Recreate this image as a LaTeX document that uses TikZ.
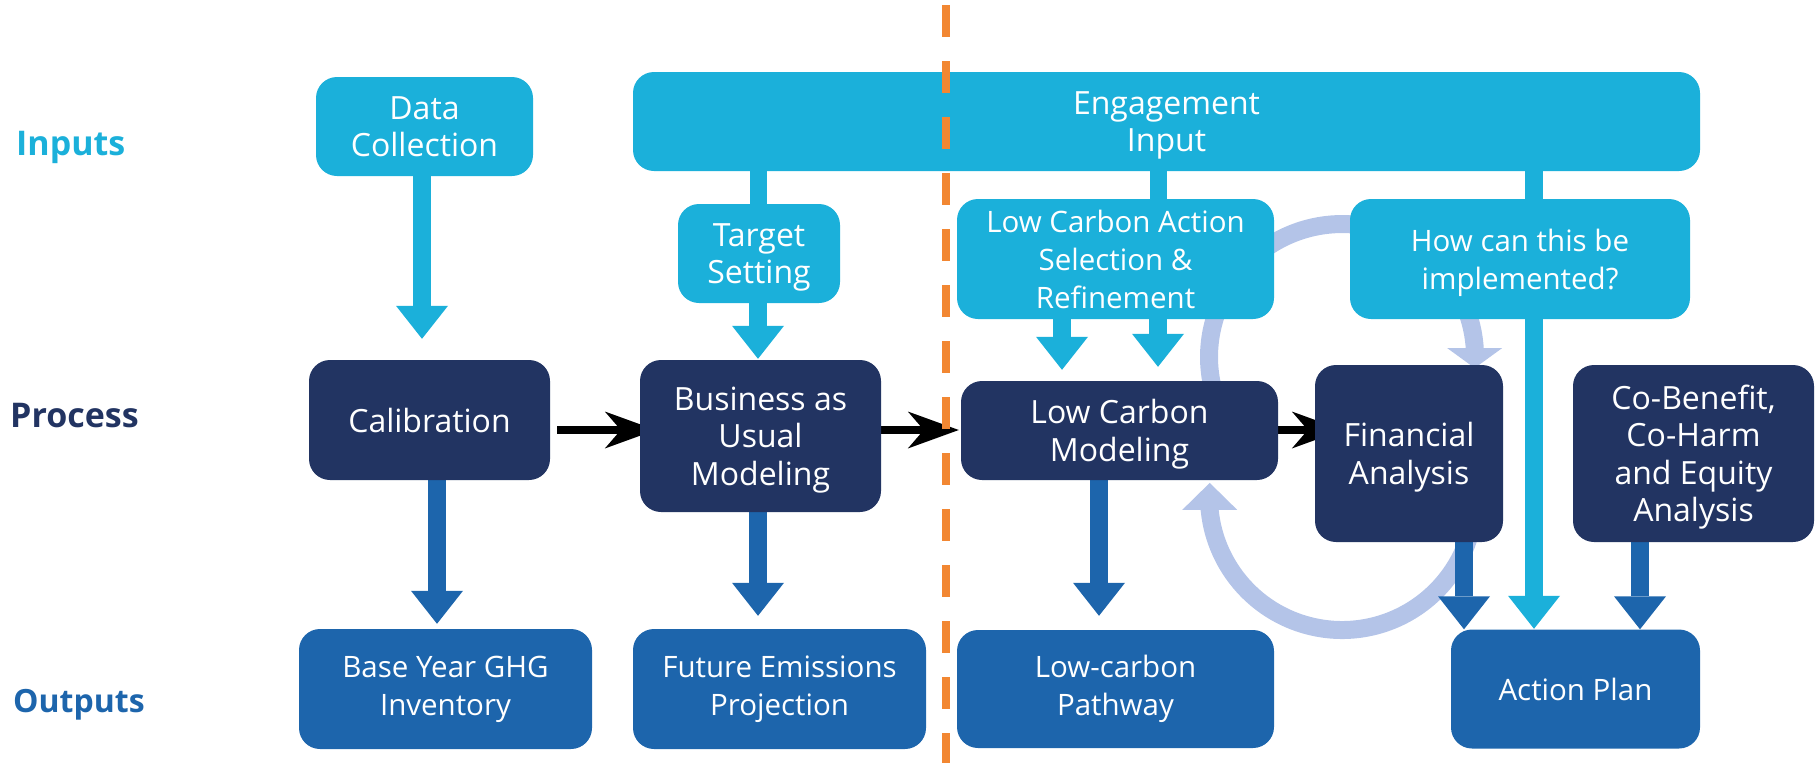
\documentclass[tikz,border=0pt]{standalone}
\usepackage{fontspec}
\setmainfont{Open Sans}
\usetikzlibrary{arrows.meta}
\definecolor{cIn}{RGB}{27,176,218}
\definecolor{cProc}{RGB}{34,52,98}
\definecolor{cOut}{RGB}{29,101,172}
\definecolor{cPeri}{RGB}{180,196,232}
\definecolor{cSep}{RGB}{242,135,50}
\pgfdeclarelayer{behind}
\pgfdeclarelayer{front}
\pgfsetlayers{behind,main,front}
\tikzset{
  boxbase/.style={rounded corners=21pt, align=center, text=white, inner sep=0pt,
    font=\fontsize{29.5pt}{38pt}\selectfont},
  bigtext/.style={font=\fontsize{32pt}{37.5pt}\selectfont},
  inbox/.style={boxbase, fill=cIn},
  procbox/.style={boxbase, bigtext, fill=cProc},
  outbox/.style={boxbase, fill=cOut},
  rowlabel/.style={anchor=base west, inner sep=0pt, font=\fontsize{34pt}{40pt}\selectfont\bfseries},
  inlink/.style={draw=cIn, line width=17pt},
  inarrow/.style={draw=cIn, line width=18pt, -{Triangle[length=33pt,width=52pt,line width=0pt]}},
  outarrow/.style={draw=cOut, line width=18pt, -{Triangle[length=33pt,width=52pt,line width=0pt]}},
  flowarrow/.style={draw=black, line width=8pt, -{Stealth[length=51pt,width=37pt,inset=16pt,line width=0pt]}},
  cyclearrow/.style={draw=cPeri, line width=18pt},
  separator/.style={draw=cSep, line width=8pt, dash pattern=on 32pt off 24pt}
}
\begin{document}
\begin{tikzpicture}[x=1pt,y=-1pt]
\useasboundingbox (0,0) rectangle (1816,763);

% boxes
\node[inbox, bigtext, minimum width=217pt, minimum height=99pt] (dc) at (424.5,126.5) {Data\\Collection};
\node[inbox, bigtext, minimum width=1067pt, minimum height=99pt] (eng) at (1166.5,121.5) {Engagement\\\smash{Input}};
\node[inbox, bigtext, minimum width=162pt, minimum height=99pt] (ts) at (759,253.5) {Target\\\smash{Setting}};
\node[inbox, minimum width=317pt, minimum height=120pt] (lca) at (1115.5,259) {Low Carbon Action\\Selection \&\\Refinement};
\node[inbox, minimum width=340pt, minimum height=120pt] (how) at (1520,259) {How can this be\\\smash{implemented?}};

\node[procbox, minimum width=241pt, minimum height=120pt] (cal) at (429.5,420) {Calibration};
\node[procbox, minimum width=241pt, minimum height=152pt] (bau) at (760.5,436) {Business as\\Usual\\\smash{Modeling}};
\node[procbox, minimum width=317pt, minimum height=99pt] (lcm) at (1119.5,430.5) {Low Carbon\\\smash{Modeling}};
\node[procbox, minimum width=188pt, minimum height=177pt] (fin) at (1409,453.5) {Financial\\\smash{Analysis}};
\node[procbox, minimum width=241pt, minimum height=177pt] (cob) at (1693.5,453.5) {Co-Benefit,\\Co-Harm\\and Equity\\\smash{Analysis}};

\node[outbox, minimum width=293pt, minimum height=120pt] (bye) at (445.5,689) {Base Year GHG\\Inventory};
\node[outbox, minimum width=293pt, minimum height=120pt] (fep) at (779.5,689) {Future Emissions\\Projection};
\node[outbox, minimum width=317pt, minimum height=118pt] (lcp) at (1115.5,689) {Low-carbon\\Pathway};
\node[outbox, minimum width=249pt, minimum height=119pt] (ap) at (1575.5,689) {Action Plan};

% row labels
\node[rowlabel, text=cIn] (linputs) at (16,155) {Inputs};
\node[rowlabel, text=cProc] (lprocess) at (10,427) {Process};
\node[rowlabel, text=cOut, font=\fontsize{32pt}{40pt}\selectfont\bfseries] (loutputs) at (13,712) {Outputs};

\begin{pgfonlayer}{behind}
% cycle arcs
\coordinate (cycA) at (1214.2,393.7);
\coordinate (cycB) at (1472,525.1);
\draw[cyclearrow, -{Triangle[length=20pt,width=55pt,line width=0pt]}] (cycA) arc[start angle=196, end angle=4.3, radius=133pt] -- ++(0pt,-21pt);
\draw[cyclearrow, -{Triangle[length=27pt,width=55pt,line width=0pt]}] (cycB) arc[start angle=-12.2, end angle=-174, radius=133pt] -- ++(0pt,28pt);

% black flow arrows
\draw[flowarrow] ([xshift=7pt,yshift=-10pt]cal.east) -- ([xshift=16pt,yshift=6pt]bau.west);
\draw[flowarrow] ([yshift=6pt]bau.east) -- ([xshift=-2pt,yshift=0.5pt]lcm.west);
\draw[flowarrow] ([yshift=0.5pt]lcm.east) -- ([xshift=28pt,yshift=23.5pt]fin.west);

% input connectors
\draw[inlink] ([xshift=-408.5pt]eng.south) -- ([xshift=-1pt]ts.north);
\draw[inlink] ([xshift=-8.5pt]eng.south) -- ([xshift=42.5pt]lca.north);
\draw[inarrow, shorten >=21pt] ([xshift=-2.5pt]dc.south) -- ([xshift=-7.5pt]cal.north);
\draw[inarrow, shorten >=1pt] ([xshift=-1pt]ts.south) -- ([xshift=-2.5pt]bau.north);
\draw[inarrow, shorten >=11pt] ([xshift=-53.5pt]lca.south) -- ([xshift=-57.5pt]lcm.north);
\draw[inarrow, shorten >=14pt] ([xshift=42.5pt]lca.south) -- ([xshift=38.5pt]lcm.north);
\draw[inarrow, shorten >=0.5pt] ([xshift=367.5pt]eng.south) -- ([xshift=-41.5pt]ap.north);

% output arrows
\draw[outarrow, shorten >=5pt] ([xshift=7.5pt]cal.south) -- ([xshift=-8.5pt]bye.north);
\draw[outarrow, shorten >=13pt] ([xshift=-2.5pt]bau.south) -- ([xshift=-21.5pt]fep.north);
\draw[outarrow, shorten >=14pt] ([xshift=-20.5pt]lcm.south) -- ([xshift=-16.5pt]lcp.north);
\draw[outarrow] ([xshift=55pt]fin.south) -- ([xshift=-111.5pt]ap.north);
\draw[outarrow] ([xshift=-53.5pt]cob.south) -- ([xshift=64.5pt]ap.north);
\end{pgfonlayer}

% separator on top
\begin{pgfonlayer}{front}
\coordinate (septop) at (946,5);
\coordinate (sepbot) at (946,763);
\draw[separator] (septop) -- (sepbot);
\end{pgfonlayer}
\end{tikzpicture}
\end{document}
